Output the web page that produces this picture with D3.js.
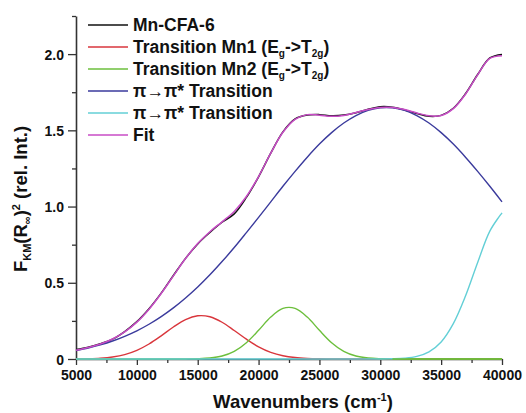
<!DOCTYPE html>
<html><head><meta charset="utf-8">
<script src="https://cdn.jsdelivr.net/npm/d3@7"></script>
<style>
body{margin:0;background:#fff;}
text{font-family:"Liberation Sans",Arial,sans-serif;font-weight:bold;fill:#111;}
</style></head>
<body><svg id="c" width="526" height="413"></svg>
<script>
const wavenumbers = [5000,6000,7000,8000,9000,10000,11000,12000,13000,14000,15000,16000,17000,18000,19000,20000,21000,22000,23000,24000,25000,26000,27000,28000,29000,30000,31000,32000,33000,34000,35000,36000,37000,38000,39000,40000];
const mnCFA6 = [0.062,0.078,0.100,0.130,0.180,0.245,0.330,0.432,0.548,0.660,0.755,0.830,0.897,0.952,1.060,1.195,1.350,1.490,1.575,1.600,1.603,1.596,1.600,1.615,1.638,1.655,1.652,1.634,1.610,1.592,1.598,1.645,1.740,1.866,1.975,1.998];
const mn1 = [0.0006,0.002,0.0054,0.0133,0.029,0.057,0.0985,0.152,0.210,0.259,0.2835,0.277,0.241,0.187,0.130,0.080,0.044,0.0216,0.0094,0.0037,0.0013,0.0004,0.0001,0,0,0,0,0,0,0,0,0,0,0,0,0];
const mn2 = [0,0,0,0,0,0,0,0,0,0.0004,0.0017,0.0063,0.0195,0.050,0.107,0.188,0.275,0.332,0.332,0.275,0.188,0.107,0.050,0.0195,0.0063,0.0017,0.0004,0,0,0,0,0,0,0,0,0];
const pi1 = [0.056,0.0725,0.093,0.118,0.149,0.185,0.228,0.278,0.335,0.400,0.472,0.552,0.639,0.731,0.829,0.929,1.031,1.133,1.231,1.324,1.410,1.485,1.548,1.597,1.631,1.648,1.648,1.631,1.597,1.548,1.485,1.410,1.324,1.231,1.133,1.031];
const pi2 = [0,0,0,0,0,0,0,0,0,0,0,0,0,0,0,0,0,0,0,0,0,0,0,0,0,0.0003,0.0014,0.0052,0.0169,0.0469,0.112,0.232,0.413,0.633,0.839,0.959];
const fit = [0.057,0.075,0.098,0.131,0.178,0.242,0.327,0.430,0.545,0.659,0.757,0.835,0.900,0.968,1.066,1.197,1.350,1.487,1.572,1.603,1.599,1.592,1.598,1.617,1.637,1.650,1.650,1.636,1.614,1.595,1.597,1.642,1.737,1.864,1.972,1.990];
const xTicks = [5000,10000,15000,20000,25000,30000,35000,40000];
const yTicks = [0,0.5,1.0,1.5,2.0];

const svg = d3.select("#c");
const x = d3.scaleLinear().domain([5000,40000]).range([76,502]);
const y = d3.scaleLinear().domain([0,2.25]).range([359,16]);

// axes
const xAxis = svg.append("g").attr("transform","translate(0,359)")
  .call(d3.axisBottom(x).tickValues(d3.range(5000,40001,2500)).tickSize(5).tickSizeOuter(0)
    .tickFormat(d => xTicks.includes(d) ? d : ""));
xAxis.selectAll(".tick line").attr("stroke","#333").attr("stroke-width",1.3)
  .attr("y2", d => xTicks.includes(d) ? 6 : 4);
xAxis.select(".domain").attr("stroke","#333").attr("stroke-width",1.6);
xAxis.selectAll(".tick text").attr("font-size",14).attr("dy",0).attr("y",21).style("font-family","'Liberation Sans',Arial,sans-serif").style("font-weight","bold").attr("fill","#111");

const yAxis = svg.append("g").attr("transform","translate(76,0)")
  .call(d3.axisLeft(y).tickValues(d3.range(0,2.251,0.25)).tickSizeOuter(0)
    .tickFormat(d => yTicks.some(t=>Math.abs(t-d)<1e-6) ? (d===0?"0":d3.format(".1f")(d)) : ""));
yAxis.selectAll(".tick line").attr("stroke","#333").attr("stroke-width",1.3)
  .attr("x2", d => yTicks.some(t=>Math.abs(t-d)<1e-6) ? -8 : -4);
yAxis.select(".domain").attr("stroke","#333").attr("stroke-width",1.6);
yAxis.selectAll(".tick text").attr("font-size",14).attr("x",-12).attr("dy","0.36em").style("font-family","'Liberation Sans',Arial,sans-serif").style("font-weight","bold").attr("fill","#111");

// series
const series = [
  {name:"data", vals:mnCFA6, color:"#111111", w:1.5},
  {name:"mn1", vals:mn1, color:"#d9363c", w:1.4},
  {name:"mn2", vals:mn2, color:"#6cbf3c", w:1.4},
  {name:"pi1", vals:pi1, color:"#3a3a9c", w:1.4},
  {name:"pi2", vals:pi2, color:"#63cfd6", w:1.4},
  {name:"fit", vals:fit, color:"#c84cc6", w:1.5}
];
const line = d3.line().x((d,i)=>x(wavenumbers[i])).y(d=>y(d)).curve(d3.curveCatmullRom);
svg.append("g").selectAll("path").data(["data","mn1","pi1","mn2","pi2","fit"].map(n=>series.find(s=>s.name===n)))
  .join("path")
  .attr("d", s => line(s.vals))
  .attr("fill","none").attr("stroke", s=>s.color).attr("stroke-width", s=>s.w);

// green visible on baseline at the right end, where cyan rises
const greenTail = wavenumbers.map((w,i)=>[w,mn2[i]]).filter(d=>d[0]>=31000);
svg.append("path")
  .attr("d", d3.line().x(d=>x(d[0])).y(d=>y(d[1]))(greenTail))
  .attr("fill","none").attr("stroke","#6cbf3c").attr("stroke-width",1.4);

// legend
const legendItems = [
  {color:"#111111", parts:[["Mn-CFA-6",""]]},
  {color:"#d9363c", parts:[["Transition Mn1 (E",""],["g","sub"],["->T",""],["2g","sub"],[")",""]]},
  {color:"#6cbf3c", parts:[["Transition Mn2 (E",""],["g","sub"],["->T",""],["2g","sub"],[")",""]]},
  {color:"#3a3a9c", parts:[["\u03c0\u2192\u03c0* Transition",""]]},
  {color:"#63cfd6", parts:[["\u03c0\u2192\u03c0* Transition",""]]},
  {color:"#c84cc6", parts:[["Fit",""]]}
];
const lg = svg.append("g");
legendItems.forEach((it,i)=>{
  const cy = 25 + i*22;
  lg.append("line").attr("x1",88).attr("x2",128).attr("y1",cy).attr("y2",cy)
    .attr("stroke",it.color).attr("stroke-width",1.5);
  const t = lg.append("text").attr("x",133).attr("y",cy+6).attr("font-size",17.5);
  it.parts.forEach(p=>{
    const ts = t.append("tspan").text(p[0]);
    if(p[1]==="sub") ts.attr("font-size",10).attr("dy",4);
    else if (t.selectAll("tspan").size()>1) ts.attr("dy",-4);
  });
});

// axis titles
const xt = svg.append("text").attr("x",303).attr("y",408).attr("text-anchor","middle").attr("font-size",18.5);
xt.append("tspan").text("Wavenumbers (cm");
xt.append("tspan").text("-1").attr("font-size",11).attr("dy",-7);
xt.append("tspan").text(")").attr("dy",7);

const yt = svg.append("text").attr("transform","translate(27,199) rotate(-90)").attr("text-anchor","middle").attr("font-size",18.5);
yt.append("tspan").text("F");
yt.append("tspan").text("KM").attr("font-size",11).attr("dy",4);
yt.append("tspan").text("(R").attr("dy",-4);
yt.append("tspan").text("\u221e").attr("font-size",11).attr("dy",4);
yt.append("tspan").text(")").attr("dy",-4);
yt.append("tspan").text("2").attr("font-size",11).attr("dy",-7);
yt.append("tspan").text(" (rel. Int.)").attr("dy",7);
</script>
</body></html>
